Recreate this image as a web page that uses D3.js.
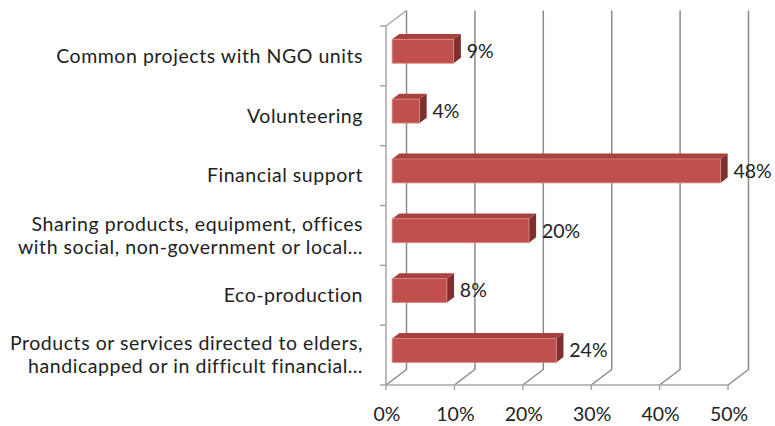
<!DOCTYPE html>
<meta charset="utf-8">
<style>
  body { margin: 0; background: #fff; }
  text { font-family: Lato, "Open Sans", sans-serif; fill: #222; font-size: 19.5px; }
</style>
<svg width="775" height="426"></svg>
<script src="https://d3js.org/d3.v7.min.js"></script>
<script>
  // data
  var categories = [
    ["Common projects with NGO units"],
    ["Volunteering"],
    ["Financial support"],
    ["Sharing products, equipment, offices", "with social, non-government or local…"],
    ["Eco-production"],
    ["Products or services directed to elders,", "handicapped or in difficult financial…"]
  ];
  var values = [0.09, 0.04, 0.48, 0.20, 0.08, 0.24];
  var ticks = [0, 0.1, 0.2, 0.3, 0.4, 0.5];

  var svg = d3.select("svg");
  var depth = { dx: 20.5, dy: -15.5 };   // full 3d depth of the plot box
  var barD0 = 0.3, barD1 = 0.65;         // bar position inside the depth
  var plotTop = 26, plotBottom = 385;

  var x = d3.scaleLinear().domain([0, 0.5]).range([386, 728]);
  var y = d3.scaleBand().domain(d3.range(categories.length)).range([plotTop, plotBottom])
    .paddingInner(0.6).paddingOuter(0.3);

  var grid = svg.append("g").attr("stroke", "#8a8a8a").attr("stroke-width", 1.5).attr("fill", "none");

  // back gridlines + floor diagonals
  ticks.forEach(function (t) {
    var xb = x(t) + depth.dx;
    grid.append("path")
      .attr("d", "M" + xb + "," + (plotTop + depth.dy) + "V" + (plotBottom + depth.dy) + "L" + x(t) + "," + plotBottom);
  });
  // left wall front edge + top edge
  grid.append("path")
    .attr("d", "M" + (x(0) + depth.dx) + "," + (plotTop + depth.dy) + "L" + x(0) + "," + plotTop + "V" + plotBottom)
    .attr("stroke", "#a6a6a6");
  // floor front edge
  grid.append("path").attr("d", "M" + x(0) + "," + plotBottom + "H" + x(0.5)).attr("stroke", "#a6a6a6");

  // ticks on the left wall
  var step = y.step();
  d3.range(categories.length + 1).forEach(function (i) {
    var yy = plotTop + i * step;
    grid.append("line").attr("x1", x(0) - 6).attr("x2", x(0)).attr("y1", yy).attr("y2", yy).attr("stroke", "#a6a6a6");
  });
  // ticks under the floor
  ticks.forEach(function (t) {
    grid.append("line").attr("x1", x(t)).attr("x2", x(t)).attr("y1", plotBottom).attr("y2", plotBottom + 5).attr("stroke", "#a6a6a6");
  });

  // x tick labels
  svg.append("g").selectAll("text").data(ticks).join("text")
    .attr("x", function (d) { return x(d) + 1; })
    .attr("y", 414)
    .attr("dy", "0.35em")
    .attr("text-anchor", "middle")
    .text(function (d) { return Math.round(d * 100) + "%"; });

  // category labels
  svg.append("g").selectAll("text").data(categories).join("text")
    .attr("text-anchor", "end")
    .style("letter-spacing", "0.55px")
    .each(function (lines, i) {
      var cy = y(i) + y.bandwidth() / 2;
      var t = d3.select(this);
      var lh = 23;
      lines.forEach(function (l, j) {
        t.append("tspan")
          .attr("x", 363)
          .attr("y", cy + (j - (lines.length - 1) / 2) * lh)
          .attr("dy", "0.35em")
          .text(l);
      });
    });

  // bars as boxes
  var bars = svg.append("g").selectAll("g").data(values).join("g");
  bars.each(function (v, i) {
    var g = d3.select(this);
    var x0 = x(0) + depth.dx * barD0, x1 = x(v) + depth.dx * barD0;
    var y0 = y(i) + depth.dy * barD0, y1 = y0 + y.bandwidth();
    var ddx = depth.dx * (barD1 - barD0), ddy = depth.dy * (barD1 - barD0);
    // top face
    g.append("path")
      .attr("d", "M" + x0 + "," + y0 + "L" + (x0 + ddx) + "," + (y0 + ddy) + "H" + (x1 + ddx) + "L" + x1 + "," + y0 + "Z")
      .attr("fill", "#a9423f");
    // side face
    g.append("path")
      .attr("d", "M" + x1 + "," + y0 + "L" + (x1 + ddx) + "," + (y0 + ddy) + "V" + (y1 + ddy) + "L" + x1 + "," + y1 + "Z")
      .attr("fill", "#7d302d");
    // front face
    g.append("rect")
      .attr("x", x0).attr("y", y0).attr("width", x1 - x0).attr("height", y1 - y0)
      .attr("fill", "#c0504d").attr("stroke", "#d98a88").attr("stroke-width", 0.8);
    // value label
    g.append("text")
      .attr("x", x1 + 13)
      .attr("y", (y0 + y1) / 2)
      .attr("dy", "0.35em")
      .text(Math.round(v * 100) + "%");
  });
</script>
